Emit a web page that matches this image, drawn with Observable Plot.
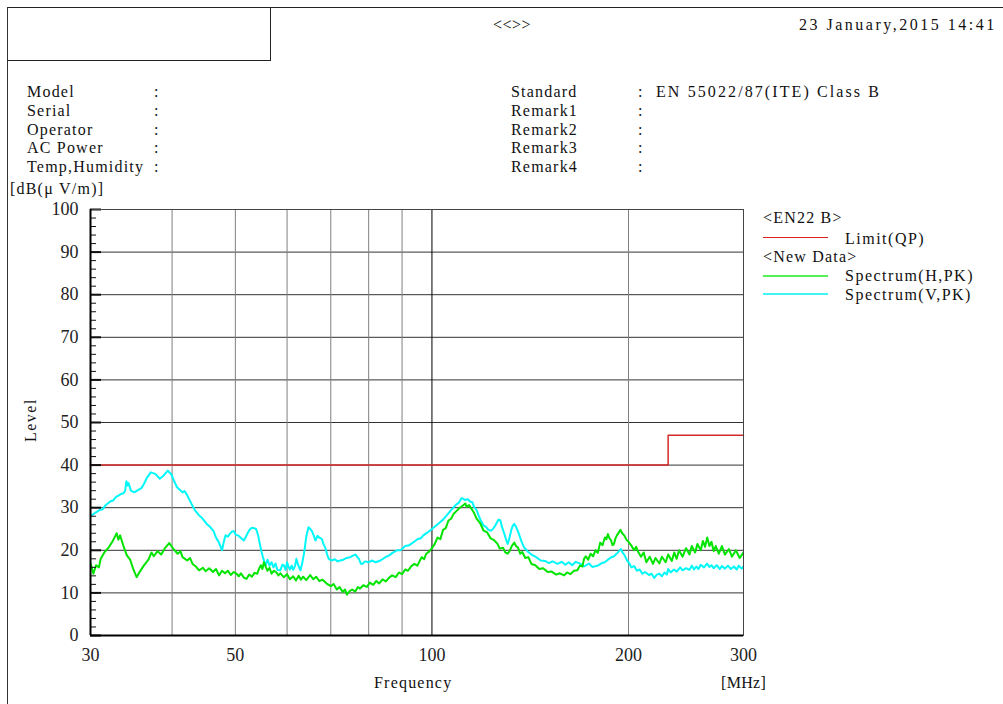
<!DOCTYPE html>
<html><head><meta charset="utf-8">
<script src="https://cdn.jsdelivr.net/npm/d3@7"></script>
<script src="https://cdn.jsdelivr.net/npm/@observablehq/plot@0.6"></script>
<style>
body{margin:0;background:#fff;}
#page{position:relative;width:1003px;height:704px;overflow:hidden;font-family:"Liberation Serif",serif;font-size:16px;color:#111;}
.t{position:absolute;white-space:pre;line-height:16px;letter-spacing:1.2px;}
.ln{position:absolute;background:#222;}
#chart{position:absolute;left:0;top:180px;}
</style></head><body><div id="page"></div>
<script>
// ---------- data ----------
const title = "<<>>";
const dateText = "23 January,2015 14:41";
const infoLeft = ["Model", "Serial", "Operator", "AC Power", "Temp,Humidity"];
const infoRight = ["Standard", "Remark1", "Remark2", "Remark3", "Remark4"];
const infoRightValues = ["EN 55022/87(ITE) Class B", "", "", "", ""];
const yUnit = "[dB(\u03bc V/m)]";
const yLabel = "Level";
const xLabel = "Frequency";
const xUnit = "[MHz]";
const legendGroups = ["<EN22 B>", "<New Data>"];
const seriesNames = ["Limit(QP)", "Spectrum(H,PK)", "Spectrum(V,PK)"];
const seriesColors = ["#d42a2a", "#00e400", "#00f8f8"];
const legendColors = ["#e02020", "#55f055", "#40f4f4"];

const xTicks = [30, 50, 100, 200, 300];
const xGrid = [40, 50, 60, 70, 80, 90, 200];
const xMajorGrid = [100];
const yTicks = [0, 10, 20, 30, 40, 50, 60, 70, 80, 90, 100];
const yMinor = [2,4,6,8,12,14,16,18,22,24,26,28,32,34,36,38,42,44,46,48,52,54,56,58,62,64,66,68,72,74,76,78,82,84,86,88,92,94,96,98];

const limitFreq = [30, 230, 230, 300];
const limitLevel = [40, 40, 47, 47];

const hSpectrum = [[30,17],[30.3,14.5],[30.6,16.5],[30.9,16],[31.1,18],[31.5,19.5],[32.0,20.7],[32.4,22],[32.7,23.2],[32.9,24],[33.1,22.5],[33.3,23.5],[33.7,21],[34.1,18.8],[34.5,17.8],[34.9,15.5],[35.3,13.7],[35.7,15],[36.2,16.4],[36.8,17.8],[37.2,19.5],[37.5,18.6],[38,19.8],[38.5,19.0],[39.0,20.5],[39.6,21.7],[40.2,20.3],[40.8,19.2],[41.2,19.8],[41.5,18.4],[42.2,17.6],[42.6,18.2],[43,16.8],[43.5,16.2],[44,15.3],[44.6,15.9],[45,15.1],[45.6,15.8],[46.2,14.9],[46.7,15.6],[47.2,14.1],[47.7,15.2],[48.2,14.6],[48.7,15.2],[49.2,14.2],[49.7,14.9],[50.2,14.5],[50.6,13.9],[51,14.6],[51.5,13.6],[52,13.3],[52.5,14.3],[53,13.8],[53.5,14.7],[54,14.5],[54.4,15.8],[54.7,16.5],[55,15.6],[55.3,17.2],[55.7,16],[56,15.2],[56.4,15.9],[56.8,14.5],[57.3,15.2],[57.8,14.8],[58.2,14.1],[58.6,14.6],[59.3,13.7],[60,14.4],[60.6,13.2],[61.3,13.9],[61.9,12.9],[62.5,14],[63,13.1],[63.5,13.8],[64.2,13],[65.1,14.2],[65.8,13.2],[66.5,13.8],[67.2,12.8],[68,13.1],[69,12.2],[70,11.6],[70.7,12.1],[71.5,10.8],[72.2,11.4],[73,10.2],[73.6,10.8],[74.1,9.6],[74.8,10.4],[75.5,10.8],[76.3,10.3],[77,11.4],[77.6,11],[78.5,11.8],[79.5,11.4],[80.3,12.4],[81.3,11.9],[82.2,12.8],[83,12.2],[84,13.2],[85,12.7],[86,13.6],[86.9,14.1],[88,13.7],[89,14.8],[90,14.4],[91,15.5],[91.9,15.2],[93,16.3],[94,16.8],[95,16.4],[96,17.8],[96.5,18.4],[97.3,17.9],[98,19.2],[99,19.7],[100,20.5],[101,21.5],[102,23],[103,22.6],[104,24.8],[105,25.2],[106,27],[107,27.4],[108,28.6],[109,29.2],[110,29.8],[111.5,30.5],[112.5,31],[113,30.2],[114,30.6],[115,29.7],[116,28.8],[117,27.5],[118.5,26.4],[120,24.6],[121.5,24.2],[123,22.8],[124.5,22.4],[126,21.5],[127,20.4],[128.5,20.6],[129.5,19.5],[130.6,19.2],[131.5,19.8],[132.5,21],[133.7,21.8],[134.5,21],[135.5,20.6],[136.5,19.2],[137.5,19.6],[139,18.2],[140.5,18.4],[142,16.8],[144,16.5],[146,15.6],[148,15.8],[150.4,14.9],[152.5,15],[155,14.3],[157,14.6],[159.4,14.1],[161,14.8],[163,14.4],[165,15.2],[167,15.3],[168.5,16.4],[170,16.2],[171,18],[172,18.6],[173.5,17.8],[175,19.2],[176.5,18.6],[178,20],[179.5,19.4],[181,21.8],[182.5,21.2],[184,23],[185,22.6],[186,23.8],[187,22.8],[188,22.4],[189,21.2],[190,21.5],[191,22.8],[192,23.5],[193.3,24.2],[194.4,24.8],[195.6,24],[197,23.5],[198.5,22.5],[200,22],[202,21.1],[204,20],[205.5,20.8],[207,19.6],[209,18.5],[211,19.5],[213,17.2],[215.5,18.5],[218,16.8],[220,18.2],[223,16.9],[225,18.5],[228,17.2],[230,19],[233,17.5],[235,19.5],[237,18],[239,20],[242,18.5],[245,20.5],[248,19],[250,21],[253,19.5],[255,21.5],[258,20],[260,22.2],[262,20.8],[264,23],[266,21],[268,22],[270,19.8],[272,21],[275,19.2],[278,21],[281,19],[285,20.3],[288,18.5],[292,20],[296,18.2],[300,19.5]];

const vSpectrum = [[30,28],[30.5,28.8],[31,29.5],[31.3,29.6],[31.6,30.5],[32.2,31.5],[32.5,31.7],[32.8,32.5],[33.4,33.2],[33.7,33.4],[33.9,34],[34.05,36.2],[34.2,35.2],[34.3,35.8],[34.6,34],[35,33.6],[35.5,34.2],[35.9,34.6],[36.2,35.5],[36.6,37],[37.1,38.3],[37.6,38],[37.9,37.6],[38.3,36.8],[38.8,37.5],[39.1,38.1],[39.4,38.7],[39.9,37.8],[40.3,36.2],[40.7,34.8],[41.1,34.2],[41.5,33.6],[41.8,33.9],[42.2,32.9],[42.8,31],[43.4,29.3],[44,28.2],[44.5,27.5],[45.2,26.2],[45.8,25.4],[46.3,24.5],[46.7,23],[47.2,21.8],[47.7,20],[48,22],[48.3,23.5],[48.7,23.2],[49,23.8],[49.4,24.4],[49.7,24.5],[50.1,23.6],[50.5,23.5],[51,22.9],[51.5,22.3],[51.9,23.2],[52.2,24],[52.6,24.9],[53,25.3],[53.4,25.2],[53.8,25],[54.2,23.4],[54.5,21.5],[54.8,19.8],[55.1,18.4],[55.6,16.4],[56,17.8],[56.4,16.4],[56.8,17.2],[57.2,16],[57.6,16.9],[58,15.4],[58.6,15.3],[59,16.6],[59.3,16.5],[59.7,15.4],[60,17.2],[60.3,16.2],[60.6,15.5],[61,16.4],[61.3,15.4],[61.7,16.3],[62,18],[62.4,16.5],[62.9,15.3],[63.3,17],[63.8,20],[64.2,23.2],[64.7,25.4],[65.1,25],[65.5,24.5],[65.9,23.5],[66.3,22.3],[66.8,23.4],[67.2,23],[67.8,22.7],[68.2,21.5],[68.7,20.5],[69.1,19],[69.5,18],[70.2,17.6],[71,17.9],[71.7,17.4],[72.4,17.6],[73.2,17.8],[74,18.2],[75,18.4],[75.8,18.8],[76.4,19],[76.9,18.4],[77.3,18],[77.8,16.9],[78.2,16.8],[79,17.4],[80,17.2],[81,17.6],[82,17.2],[83.4,17.6],[84.5,18.2],[86,18.8],[87,19.4],[88.4,20],[89.5,20],[91,21],[92.3,21.2],[93.7,21.9],[95,22.6],[96.3,22.9],[97,23.5],[98.5,24.2],[100,25],[101.5,25.8],[102.9,26.6],[104,27.2],[105.5,28.3],[106.8,29.3],[108,30.1],[109,30.8],[110,31.2],[111,32.2],[111.7,32.1],[112.5,31.8],[113.5,32],[114.5,31.4],[115.3,31.3],[116,30.2],[117,29.5],[118,28],[118.8,27],[120,25.8],[121,25.5],[122,24.8],[123.1,24.6],[124,25],[125,25.8],[125.8,26.6],[126.5,27.2],[127.3,27],[128,25.5],[129,24],[130,22.3],[130.6,21.5],[131.4,22.8],[132.2,24.6],[133,25.8],[133.7,26.2],[134.6,25.4],[135.8,24],[137,22.2],[138.4,20.7],[140,19.8],[142,19],[144,18.5],[146.8,17.6],[149,17.5],[151,17],[153,17.4],[155.7,16.8],[158,17.3],[160,16.6],[162,17.2],[164,16.5],[166,17.3],[169,16.8],[171,16.2],[174,16.9],[176,16.1],[179.4,16.4],[182,17],[184,17.2],[186,17.8],[188,18.3],[190,18.6],[192.4,19.4],[194.7,20.3],[196,19.4],[197,19],[199,17.6],[200.5,17],[202,16],[204,16.3],[206,15.2],[208,15.5],[210,14.5],[212,14.9],[215,14.2],[217,14.5],[219,13.5],[221,14.3],[223,14.5],[225,13.9],[227,14.8],[229,14.3],[230,15.6],[232,14.8],[234.7,15.5],[237,15],[240,16],[242,15.3],[245,15.8],[248,15.4],[250,16.4],[252,15.5],[254,16.2],[256,15.6],[258,16.6],[261,16],[263.8,16.9],[266,16.1],[268,16.5],[270,15.8],[273,16.5],[276,15.6],[278,16.3],[281,15.7],[284,16.4],[287,15.6],[290,16.2],[293,15.5],[295,16.4],[298,15.7],[300,16.2]];

// ---------- page furniture ----------
const page = document.getElementById("page");
function txt(s, x, cy, extra) {
  const d = document.createElement("div");
  d.className = "t";
  d.textContent = s;
  d.style.left = x + "px";
  d.style.top = (cy - 8) + "px";
  if (extra) Object.assign(d.style, extra);
  page.appendChild(d);
  return d;
}
function ln(x, y, w, h, color) {
  const d = document.createElement("div");
  d.className = "ln";
  Object.assign(d.style, {left: x + "px", top: y + "px", width: w + "px", height: h + "px"});
  if (color) d.style.background = color;
  page.appendChild(d);
}
// frame lines
ln(7, 7, 996, 1);
ln(7, 7, 1, 697, "#333");
ln(7, 60, 264, 1);
ln(270, 7, 1, 54);

txt(title, 493, 25, {letterSpacing: "0.5px"});
txt(dateText, 799, 25, {letterSpacing: "2.5px"});

infoLeft.forEach((s, i) => {
  const cy = 92 + i * 18.8;
  txt(s, 27, cy);
  txt(":", 154, cy);
});
infoRight.forEach((s, i) => {
  const cy = 92 + i * 18.8;
  txt(s, 511, cy);
  txt(":", 638, cy);
  if (infoRightValues[i]) txt(infoRightValues[i], 656, cy, {letterSpacing: "2.1px"});
});
txt(yUnit, 10, 189);
txt(xLabel, 374, 683);
txt(xUnit, 721, 683, {letterSpacing: "0.3px"});
txt(yLabel, 12, 423, {transform: "rotate(-90deg)", transformOrigin: "19px 8px", letterSpacing: "1.5px"});

// legend
txt(legendGroups[0], 763, 218);
ln(763, 237, 65, 1, legendColors[0]);
txt(seriesNames[0], 845, 239, {letterSpacing: "1.5px"});
txt(legendGroups[1], 763, 257);
ln(763, 275, 65, 1.5, legendColors[1]);
txt(seriesNames[1], 845, 276, {letterSpacing: "1.5px"});
ln(763, 293, 65, 1.5, legendColors[2]);
txt(seriesNames[2], 845, 295, {letterSpacing: "1.5px"});

// ---------- chart ----------
const limitData = limitFreq.map((f, i) => ({f, v: limitLevel[i]}));
const chart = Plot.plot({
  width: 780, height: 524,
  marginLeft: 90, marginRight: 37, marginTop: 29, marginBottom: 69,
  style: {fontFamily: '"Liberation Serif", serif', fontSize: "18px", color: "#222", background: "transparent", overflow: "visible"},
  x: {type: "log", domain: [xTicks[0], xTicks[xTicks.length - 1]]},
  y: {domain: [yTicks[0], yTicks[yTicks.length - 1]]},
  marks: [
    Plot.ruleY(yTicks, {stroke: "#333", strokeWidth: 1}),
    Plot.ruleX(xGrid, {stroke: "#808080"}),
    Plot.ruleX(xMajorGrid, {stroke: "#000"}),
    Plot.line(vSpectrum, {x: d => d[0], y: d => d[1], stroke: seriesColors[2], strokeWidth: 2, clip: true}),
    Plot.line(hSpectrum, {x: d => d[0], y: d => d[1], stroke: seriesColors[1], strokeWidth: 2, clip: true}),
    Plot.line(limitData, {x: "f", y: "v", stroke: seriesColors[0], strokeWidth: 1.5}),
    Plot.tickY(yMinor, {y: d => d, insetRight: 647, stroke: "#111"}),
    Plot.tickY(yTicks, {y: d => d, insetRight: 642, stroke: "#111", strokeWidth: 2}),
    Plot.frame({stroke: "#444"}),
    Plot.ruleX([xTicks[0]], {stroke: "#000", strokeWidth: 2}),
    Plot.ruleY([yTicks[0]], {stroke: "#000", strokeWidth: 2}),
    Plot.axisY({ticks: yTicks, tickSize: 0, tickPadding: 12, label: null}),
    Plot.axisX({ticks: xTicks, tickSize: 0, tickPadding: 13, tickFormat: d => String(d), label: null})
  ]
});
chart.id = "chart";
page.appendChild(chart);
</script>
</body></html>
